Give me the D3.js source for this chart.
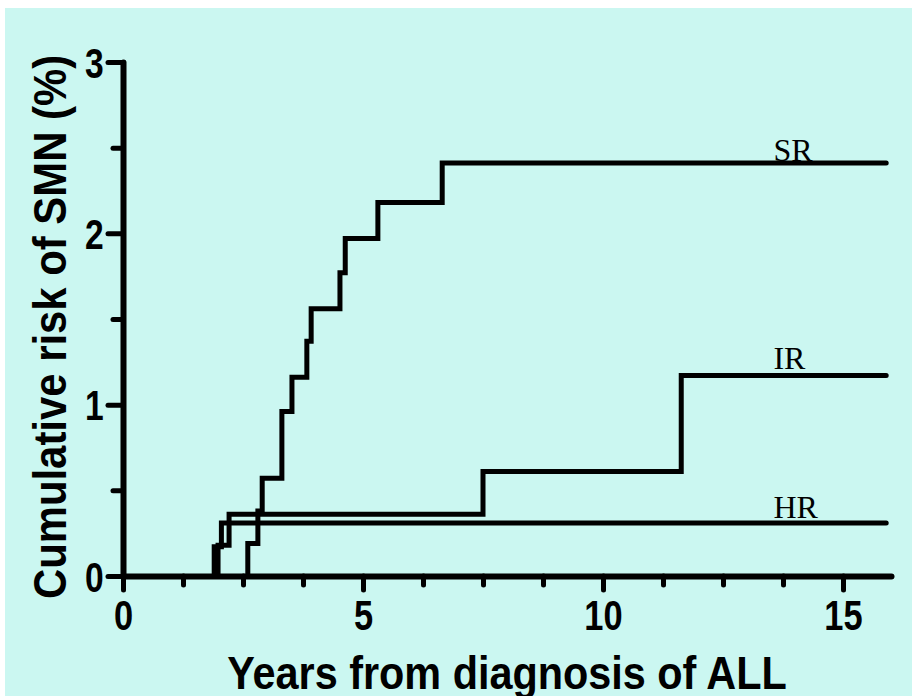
<script src="https://d3js.org/d3.v7.min.js"></script>
<style>
  body { margin: 0; background: white; }
</style>
<svg id="vis"></svg>

<script>
    // years at which each curve steps up, and the cumulative risk (%) after that step
    const srTimes = [2.60, 2.81, 2.90, 3.31, 3.52, 3.83, 3.92, 4.52, 4.63, 5.31, 6.65]
    const srRisk = [0.19, 0.38, 0.57, 0.96, 1.16, 1.37, 1.56, 1.77, 1.97, 2.18, 2.41]
    const irTimes = [1.98, 2.21, 7.50, 11.63]
    const irRisk = [0.18, 0.36, 0.61, 1.17]
    const hrTimes = [1.90, 2.05]
    const hrRisk = [0.17, 0.31]
    const followUpEnd = 15.9

    const groups = ['SR', 'IR', 'HR']
    const xMajor = [0, 5, 10, 15]
    const xMinor = [1.25, 2.5, 3.75, 6.25, 7.5, 8.75, 11.25, 12.5, 13.75]
    const yMajor = [0, 1, 2, 3]
    const yMinor = [0.5, 1.5, 2.5]

    const width = 918, height = 696

    let svg = d3.select('#vis')
        .attr('width', width)
        .attr('height', height)

    // cyan panel
    svg.append('rect')
        .attr('x', 5)
        .attr('y', 8)
        .attr('width', 907)
        .attr('height', height - 8)
        .attr('fill', '#cbf7f1')

    let x = d3.scaleLinear().domain([0, 16]).range([123, 891])
    let y = d3.scaleLinear().domain([0, 3]).range([576, 62])

    const sans = '"Liberation Sans", Arial, sans-serif'

    // axes
    let yAxis = svg.append('g')
        .attr('transform', `translate(${x(0)},0)`)
        .call(d3.axisLeft(y).tickValues(yMajor).tickSize(15).tickSizeOuter(0).tickFormat(d3.format('d')))
    svg.append('g')
        .attr('transform', `translate(${x(0)},0)`)
        .call(d3.axisLeft(y).tickValues(yMinor).tickSize(10).tickSizeOuter(0).tickFormat(''))
        .select('.domain').remove()

    let xAxis = svg.append('g')
        .attr('transform', `translate(0,${y(0)})`)
        .call(d3.axisBottom(x).tickValues(xMajor).tickSize(14).tickSizeOuter(0).tickFormat(d3.format('d')))
    svg.append('g')
        .attr('transform', `translate(0,${y(0)})`)
        .call(d3.axisBottom(x).tickValues(xMinor).tickSize(9).tickSizeOuter(0).tickFormat(''))
        .select('.domain').remove()

    svg.selectAll('.domain')
        .attr('stroke', 'black')
        .attr('stroke-width', 6)
        .attr('stroke-linecap', 'round')
    svg.selectAll('.tick line')
        .attr('stroke', 'black')
        .attr('stroke-width', 5)
        .attr('stroke-linecap', 'round')

    yAxis.selectAll('text')
        .attr('x', -24)
        .attr('dy', '0.36em')
        .attr('transform', 'scale(0.8,1)')
        .style('font-family', sans)
        .style('font-weight', 'bold')
        .style('font-size', '42px')
        .attr('fill', 'black')

    xAxis.selectAll('text')
        .attr('y', 54)
        .attr('dy', 0)
        .attr('transform', 'scale(0.82,1)')
        .style('font-family', sans)
        .style('font-weight', 'bold')
        .style('font-size', '42px')
        .attr('fill', 'black')

    svg.append('text')
        .attr('transform', `translate(${x(8)},689) scale(0.9,1)`)
        .attr('text-anchor', 'middle')
        .style('font-family', sans)
        .style('font-weight', 'bold')
        .style('font-size', '46px')
        .text('Years from diagnosis of ALL')

    svg.append('text')
        .attr('transform', `translate(66,${y(1.5) + 8}) rotate(-90) scale(0.91,1)`)
        .attr('text-anchor', 'middle')
        .style('font-family', sans)
        .style('font-weight', 'bold')
        .style('font-size', '46px')
        .text('Cumulative risk of SMN (%)')

    // step curves
    function steps(times, risk) {
        let pts = [[times[0], 0]]
        times.forEach((t, i) => pts.push([t, risk[i]]))
        pts.push([followUpEnd, risk[risk.length - 1]])
        return pts
    }

    let curves = [steps(srTimes, srRisk), steps(irTimes, irRisk), steps(hrTimes, hrRisk)]

    let line = d3.line()
        .x(d => x(d[0]))
        .y(d => y(d[1]))
        .curve(d3.curveStepAfter)

    svg.selectAll('path.curve')
        .data(curves)
        .enter().append('path')
        .attr('class', 'curve')
        .attr('d', line)
        .attr('fill', 'none')
        .attr('stroke', 'black')
        .attr('stroke-width', 5)
        .attr('stroke-linejoin', 'miter')
        .attr('stroke-linecap', 'round')

    // group labels sitting on the plateaus
    const labelOffset = [2, 7, 5]
    svg.selectAll('text.group')
        .data(groups)
        .enter().append('text')
        .attr('class', 'group')
        .attr('x', x(13.55))
        .attr('y', (d, i) => y(curves[i][curves[i].length - 1][1]) - labelOffset[i])
        .style('font-family', '"Liberation Serif", "Times New Roman", serif')
        .style('font-size', '32px')
        .text(d => d)
</script>
